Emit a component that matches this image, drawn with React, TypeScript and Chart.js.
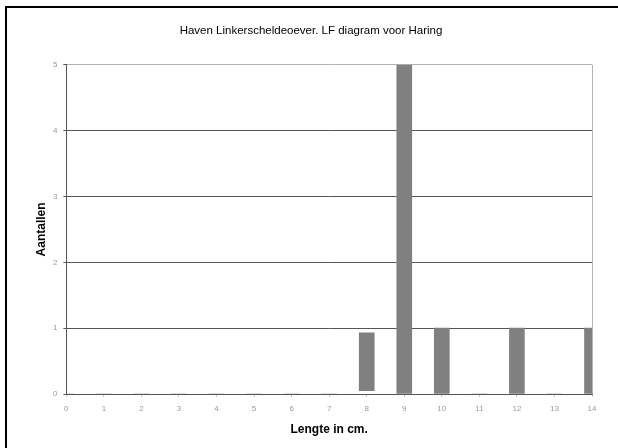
import React, { useEffect, useRef } from "react";
import { Chart, registerables } from "chart.js";

Chart.register(...registerables);

const titleText = "Haven Linkerscheldeoever. LF diagram voor Haring";
const xTitle = "Lengte in cm.";
const yTitle = "Aantallen";
const lengths = ["0", "1", "2", "3", "4", "5", "6", "7", "8", "9", "10", "11", "12", "13", "14"];
const counts = [0, 0, 0, 0, 0, 0, 0, 0, 0.93, 5, 1, 0, 1, 0, 1];
const bases = [0, 0, 0, 0, 0, 0, 0, 0, 0.05, 0, 0, 0, 0, 0, 0];
const yTicks = [0, 1, 2, 3, 4, 5];

const framePlugin = {
  id: "outerFrame",
  beforeDraw(chart: any) {
    const c = chart.ctx;
    c.save();
    c.fillStyle = "#000";
    c.fillRect(5, 6, 2, chart.height - 6);
    c.fillRect(5, 6, chart.width - 5, 2);
    c.restore();
  },
};

export default function App() {
  const ref = useRef<HTMLCanvasElement>(null);
  useEffect(() => {
    document.body.style.margin = "0";
    document.body.style.overflow = "hidden";
    const ctx = ref.current!;
    const chart = new Chart(ctx, {
      type: "bar",
      data: {
        labels: lengths,
        datasets: [
          {
            data: counts.map((v, i) => [bases[i], v]) as any,
            backgroundColor: "#808080",
            borderWidth: 0,
            barThickness: 15,
            clip: 0 as any,
          },
        ],
      },
      plugins: [framePlugin],
      options: {
        responsive: false,
        animation: false,
        layout: { padding: { left: 30, right: 26, top: 0, bottom: 11 } },
        plugins: {
          legend: { display: false },
          tooltip: { enabled: false },
          title: {
            display: true,
            text: titleText,
            color: "#000",
            font: { family: "Liberation Sans", size: 11.5, weight: "normal" as any },
            padding: { top: 24, bottom: 27 },
          },
        },
        scales: {
          x: {
            type: "category",
            offset: false,
            grid: {
              offset: false,
              color: (c: any) => (c.index === lengths.length - 1 ? "#b3b3b3" : "rgba(0,0,0,0)"),
              tickColor: "#c8c8c8",
              tickLength: 3,
              lineWidth: 1,
            },
            border: { color: "#555", width: 1 },
            ticks: {
              autoSkip: false,
              maxRotation: 0,
              padding: 7,
              color: "#9a9a9a",
              font: { family: "Liberation Sans", size: 8 },
            },
            title: {
              display: true,
              text: xTitle,
              color: "#000",
              font: { family: "Liberation Sans", size: 12, weight: "bold" as any },
              padding: { top: 2, bottom: 0 },
            },
          },
          y: {
            min: yTicks[0],
            max: yTicks[yTicks.length - 1],
            afterBuildTicks: (s: any) => {
              s.ticks = yTicks.map((v) => ({ value: v }));
            },
            grid: {
              color: (c: any) => (c.tick && c.tick.value === yTicks[yTicks.length - 1] ? "#b3b3b3" : "#555"),
              tickColor: "#555",
              tickLength: 3,
              lineWidth: 1,
            },
            border: { color: "#555", width: 1 },
            ticks: {
              padding: 6,
              color: "#9a9a9a",
              font: { family: "Liberation Sans", size: 8 },
            },
            title: {
              display: true,
              text: yTitle,
              color: "#000",
              font: { family: "Liberation Sans", size: 12, weight: "bold" as any },
              padding: { top: 4.5, bottom: -2 },
            },
          },
        },
      },
    });
    return () => chart.destroy();
  }, []);
  return (
    <div style={{ position: "relative", width: 618, height: 448, overflow: "hidden", background: "#fff" }}>
      <canvas ref={ref} width={618} height={448} style={{ display: "block" }} />
    </div>
  );
}
